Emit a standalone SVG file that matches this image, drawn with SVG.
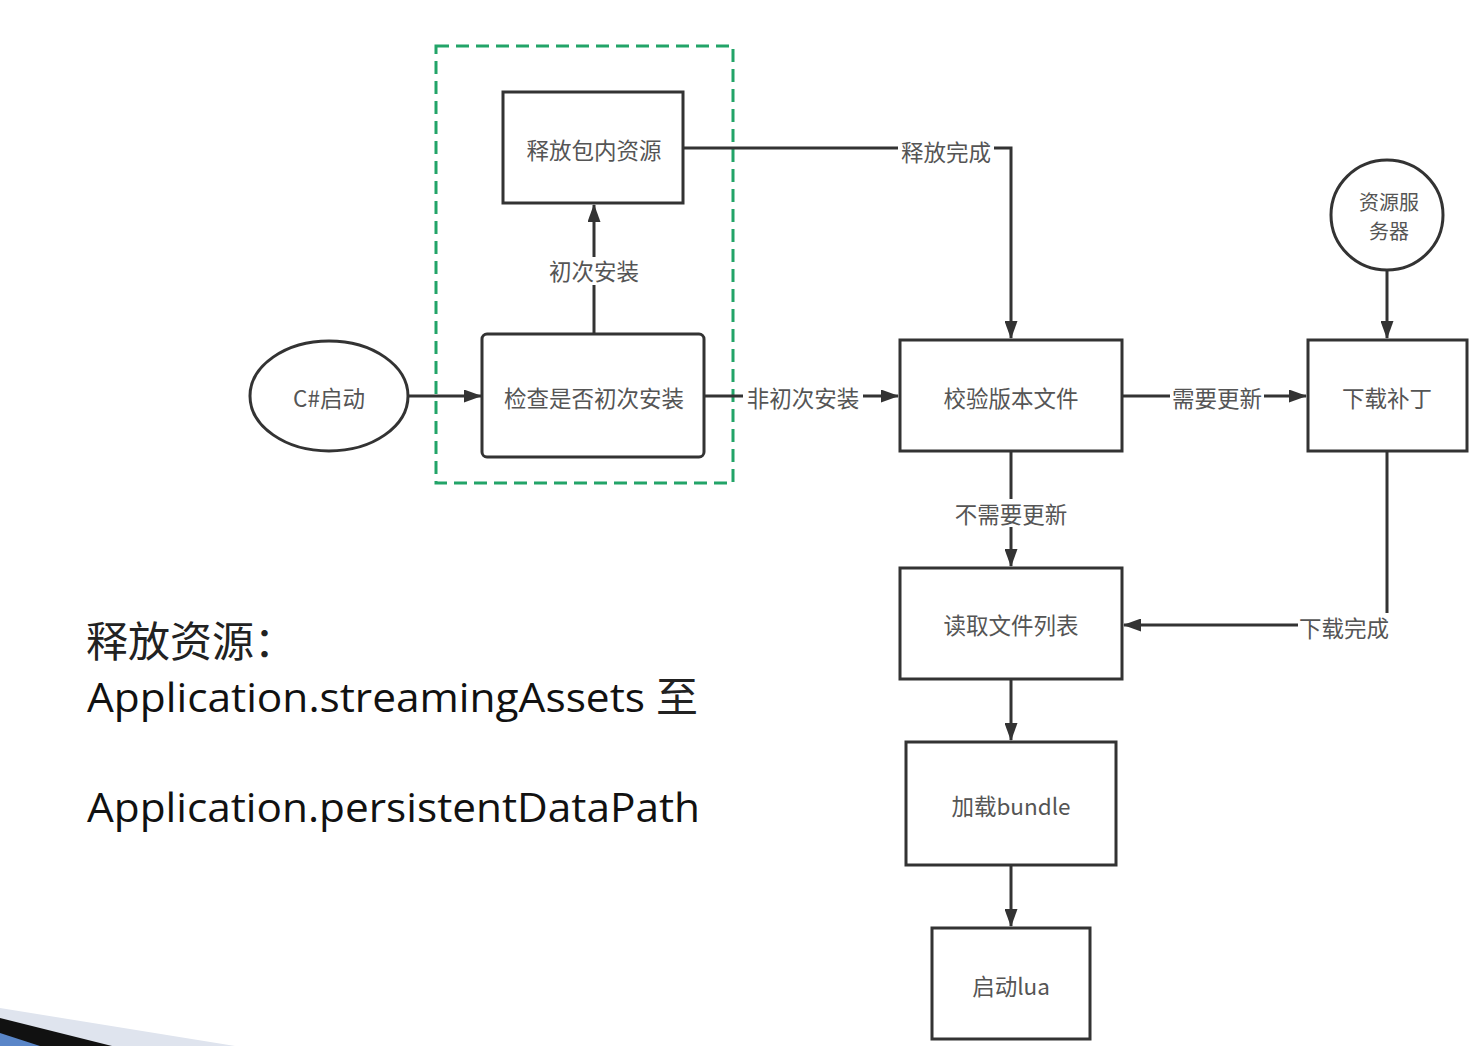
<svg xmlns="http://www.w3.org/2000/svg" width="1483" height="1046" viewBox="0 0 1483 1046">
<defs>
<marker id="ah" viewBox="0 0 18 13" refX="17" refY="6.5" markerWidth="18" markerHeight="13" markerUnits="userSpaceOnUse" orient="auto">
<path d="M0,0 L18,6.5 L0,13 Z" fill="#333"/>
</marker>
<style>
.box{fill:#fff;stroke:#333;stroke-width:3}
.lbl{font-family:"Noto Sans CJK SC","Noto Sans",sans-serif;font-size:22.5px;fill:#555;text-anchor:middle;dominant-baseline:central}
.sm{font-size:20px}
.edge{fill:none;stroke:#333;stroke-width:3}
.arr{marker-end:url(#ah)}
.bg{fill:#fff}
</style>
</defs>
<rect width="1483" height="1046" fill="#fff"/>
<g id="decor">
<path d="M0,1008 L235,1046 L0,1046 Z" fill="#dfe4ee"/>
<path d="M0,1018 L112,1046 L0,1046 Z" fill="#111"/>
<path d="M0,1033 L40,1046 L0,1046 Z" fill="#5a86c8"/>
</g>
<g id="group-frame">
<rect x="436" y="46" width="297" height="437" fill="none" stroke="#22a468" stroke-width="3" stroke-dasharray="13,7"/>
</g>
<g id="connectors">
<line class="edge arr" x1="408" y1="396" x2="481" y2="396"/>
<line class="edge arr" x1="594" y1="334" x2="594" y2="205"/>
<polyline class="edge arr" points="683,148 1011,148 1011,338"/>
<line class="edge arr" x1="704" y1="396" x2="898" y2="396"/>
<line class="edge arr" x1="1122" y1="396" x2="1306" y2="396"/>
<line class="edge arr" x1="1387" y1="270" x2="1387" y2="338"/>
<line class="edge arr" x1="1011" y1="451" x2="1011" y2="566"/>
<polyline class="edge arr" points="1387,451 1387,625 1124,625"/>
<line class="edge arr" x1="1011" y1="679" x2="1011" y2="740"/>
<line class="edge arr" x1="1011" y1="865" x2="1011" y2="926"/>
<rect class="bg" x="548" y="257" width="92" height="28"/>
<text class="lbl" x="594" y="270">初次安装</text>
<rect class="bg" x="898" y="137" width="96" height="28"/>
<text class="lbl" x="946" y="151">释放完成</text>
<rect class="bg" x="743" y="383" width="120" height="28"/>
<text class="lbl" x="803" y="397">非初次安装</text>
<rect class="bg" x="1170" y="383" width="94" height="28"/>
<text class="lbl" x="1217" y="397">需要更新</text>
<rect class="bg" x="953" y="499" width="116" height="28"/>
<text class="lbl" x="1011" y="513">不需要更新</text>
<rect class="bg" x="1298" y="613" width="92" height="28"/>
<text class="lbl" x="1344" y="627">下载完成</text>
</g>
<g id="node-start">
<ellipse class="box" cx="329" cy="396" rx="79" ry="55"/>
<text class="lbl" x="329" y="397">C#启动</text>
</g>
<g id="node-check">
<rect class="box" x="482" y="334" width="222" height="123" rx="5"/>
<text class="lbl" x="594" y="397">检查是否初次安装</text>
</g>
<g id="node-release">
<rect class="box" x="503" y="92" width="180" height="111"/>
<text class="lbl" x="594" y="149">释放包内资源</text>
</g>
<g id="node-verify">
<rect class="box" x="900" y="340" width="222" height="111"/>
<text class="lbl" x="1011" y="397">校验版本文件</text>
</g>
<g id="node-server">
<ellipse class="box" cx="1387" cy="215" rx="56" ry="55"/>
<text class="lbl sm" x="1389" y="201">资源服</text>
<text class="lbl sm" x="1389" y="230">务器</text>
</g>
<g id="node-download">
<rect class="box" x="1308" y="340" width="159" height="111"/>
<text class="lbl" x="1387" y="397">下载补丁</text>
</g>
<g id="node-readlist">
<rect class="box" x="900" y="568" width="222" height="111"/>
<text class="lbl" x="1011" y="624">读取文件列表</text>
</g>
<g id="node-bundle">
<rect class="box" x="906" y="742" width="210" height="123"/>
<text class="lbl" x="1011" y="805">加载bundle</text>
</g>
<g id="node-lua">
<rect class="box" x="932" y="928" width="158" height="111"/>
<text class="lbl" x="1011" y="985">启动lua</text>
</g>
<g id="note">
<text x="86" y="657" font-family="'Noto Sans CJK SC',sans-serif" font-size="42" fill="#222">释放资源：</text>
<text x="87" y="712" font-family="'Open Sans','Noto Sans CJK SC',sans-serif" font-size="40" fill="#111" textLength="558" lengthAdjust="spacingAndGlyphs">Application.streamingAssets</text>
<text x="656" y="712" font-family="'Noto Sans CJK SC',sans-serif" font-size="42" fill="#222">至</text>
<text x="87" y="822" font-family="'Open Sans','Noto Sans CJK SC',sans-serif" font-size="40" fill="#111" textLength="613" lengthAdjust="spacingAndGlyphs">Application.persistentDataPath</text>
</g>
</svg>
